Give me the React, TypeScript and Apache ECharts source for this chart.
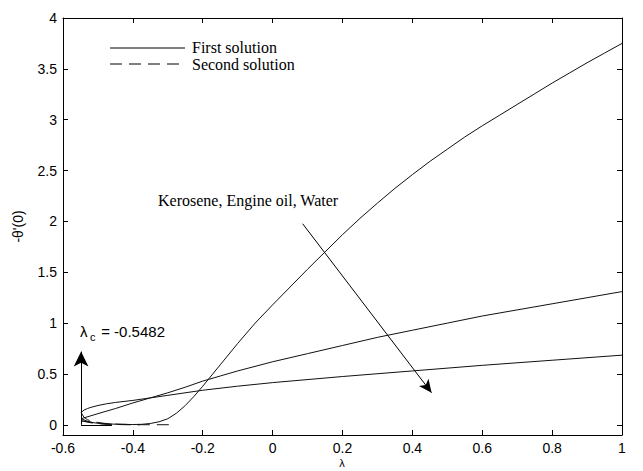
import React, { useEffect, useRef } from "react";
import * as echarts from "echarts";

const lambdaC = -0.5482;

// First solutions (solid)
const c1X = [lambdaC, -0.52, -0.5, -0.45, -0.4, -0.375, -0.35, -0.325, -0.3, -0.275, -0.25, -0.225, -0.2, -0.15, -0.1, -0.05, 0, 0.05, 0.1, 0.15, 0.2, 0.25, 0.3, 0.35, 0.4, 0.45, 0.5, 0.55, 0.6, 0.65, 0.7, 0.75, 0.8, 0.85, 0.9, 0.95, 1];
const c1Y = [0.04, 0.025, 0.015, 0.006, 0.003, 0.005, 0.013, 0.03, 0.06, 0.115, 0.19, 0.28, 0.38, 0.59, 0.8, 1.0, 1.18, 1.355, 1.53, 1.7, 1.87, 2.03, 2.18, 2.325, 2.46, 2.59, 2.71, 2.83, 2.94, 3.045, 3.15, 3.255, 3.36, 3.46, 3.56, 3.655, 3.75];

const c2X = [lambdaC, -0.5, -0.45, -0.4, -0.35, -0.3, -0.25, -0.2, -0.15, -0.1, 0, 0.1, 0.2, 0.3, 0.4, 0.5, 0.6, 0.7, 0.8, 0.9, 1];
const c2Y = [0.06, 0.11, 0.16, 0.215, 0.265, 0.315, 0.37, 0.43, 0.48, 0.53, 0.62, 0.7, 0.78, 0.86, 0.93, 1.0, 1.07, 1.13, 1.19, 1.25, 1.31];

const c3X = [lambdaC, -0.54, -0.53, -0.52, -0.5, -0.475, -0.45, -0.4, -0.35, -0.3, -0.2, -0.1, 0, 0.2, 0.4, 0.6, 0.8, 1];
const c3Y = [0.12, 0.145, 0.16, 0.172, 0.19, 0.207, 0.22, 0.24, 0.265, 0.29, 0.34, 0.38, 0.415, 0.475, 0.53, 0.585, 0.635, 0.685];

// Second solutions (dashed)
const d1X = [lambdaC, -0.52, -0.5, -0.47, -0.42, -0.35, -0.28];
const d1Y = [0.04, 0.02, 0.012, 0.005, 0.002, 0.001, 0.001];
const d2X = [lambdaC, -0.53, -0.51, -0.48, -0.44, -0.38];
const d2Y = [0.06, 0.035, 0.018, 0.008, 0.003, 0.001];
const d3X = [lambdaC, -0.54, -0.53, -0.51, -0.48, -0.44, -0.4];
const d3Y = [0.12, 0.075, 0.05, 0.028, 0.014, 0.006, 0.003];

const xTickMin = -0.6;
const xTickMax = 1;
const yMin = -0.1;
const yMax = 4;

const legendNames = ["First solution", "Second solution"];
const annotationText = "Kerosene, Engine oil, Water";
const lambdaCValue = " = -0.5482";
const xName = "λ";
const yName = "-θ'(0)";

const zip = (xs: number[], ys: number[]) => xs.map((x, i) => [x, ys[i]]);

const SANS = "Liberation Sans, Arial, sans-serif";
const SERIF = "Liberation Serif, Times New Roman, serif";

export default function App() {
  const ref = useRef<HTMLDivElement>(null);
  useEffect(() => {
    if (!ref.current) return;
    const chart = echarts.init(ref.current, undefined, { renderer: "svg" });
    const lineCol = "#111";
    const solid = { color: lineCol, width: 1, type: "solid" as const };
    const dashed = { color: lineCol, width: 1, type: [12, 7] as any };
    const mkSeries = (xs: number[], ys: number[], ls: any, extra: any = {}) => ({
      type: "line",
      data: zip(xs, ys),
      showSymbol: false,
      smooth: false,
      lineStyle: ls,
      silent: true,
      z: 3,
      ...extra,
    });
    const yLabelFmt = (v: number) => {
      const r = Math.round(v * 2) / 2;
      if (Math.abs(r - v) > 1e-6 || v < 0) return "";
      return String(r);
    };
    const baseAxisLine = { show: true, onZero: false, lineStyle: { color: "#000", width: 1 } };
    chart.setOption({
      animation: false,
      backgroundColor: "#fff",
      grid: { left: 63, right: 21, top: 18, bottom: 36, containLabel: false, outerBoundsMode: "none" },
      xAxis: [
        {
          type: "value",
          min: xTickMin,
          max: xTickMax,
          interval: 0.2,
          position: "bottom",
          axisLine: baseAxisLine,
          axisTick: { inside: true, length: 5, lineStyle: { color: "#000" } },
          axisLabel: { fontFamily: SANS, fontSize: 14, color: "#000", margin: 6, lineHeight: 14 },
          splitLine: { show: false },
        },
        {
          type: "value",
          min: xTickMin,
          max: xTickMax,
          interval: 0.2,
          position: "top",
          axisLine: baseAxisLine,
          axisTick: { inside: true, length: 5, lineStyle: { color: "#000" } },
          axisLabel: { show: false },
          splitLine: { show: false },
        },
      ],
      yAxis: [
        {
          type: "value",
          min: yMin,
          max: yMax,
          splitNumber: 8,
          minInterval: 0.5,
          maxInterval: 0.5,
          position: "left",
          name: yName,
          nameLocation: "middle",
          nameRotate: 90,
          nameGap: 38,
          nameTextStyle: { fontFamily: SANS, fontSize: 14, color: "#000" },
          axisLine: baseAxisLine,
          axisTick: { inside: true, length: 5, lineStyle: { color: "#000" } },
          axisLabel: { fontFamily: SANS, fontSize: 14, color: "#000", margin: 6, formatter: yLabelFmt },
          splitLine: { show: false },
        },
        {
          type: "value",
          min: yMin,
          max: yMax,
          splitNumber: 8,
          minInterval: 0.5,
          maxInterval: 0.5,
          position: "right",
          axisLine: baseAxisLine,
          axisTick: { inside: true, length: 5, lineStyle: { color: "#000" } },
          axisLabel: { show: false },
          splitLine: { show: false },
        },
      ],
      series: [
        mkSeries(c1X, c1Y, solid, {
          markLine: {
            silent: true,
            animation: false,
            label: { show: false },
            lineStyle: { color: "#000", width: 1, type: "solid" },
            symbol: ["none", "arrow"],
            data: [
              [
                { coord: [0.086, 1.977], symbol: "none" },
                { coord: [0.455, 0.315], symbol: "arrow", symbolSize: [9, 13] },
              ],
              [
                { coord: [lambdaC, 0], symbol: "none" },
                { coord: [lambdaC, 0.72], symbol: "arrow", symbolSize: [11, 15] },
              ],
              [
                { coord: [lambdaC, 0], symbol: "none" },
                { coord: [-0.46, 0], symbol: "none" },
              ],
            ],
          },
        }),
        mkSeries(c2X, c2Y, solid),
        mkSeries(c3X, c3Y, solid),
        mkSeries(d1X, d1Y, dashed),
        mkSeries(d2X, d2Y, dashed),
        mkSeries(d3X, d3Y, dashed),
      ],
      graphic: [
        { type: "line", shape: { x1: 110, y1: 48, x2: 185, y2: 48 }, style: { stroke: "#000", lineWidth: 1 } },
        {
          type: "text",
          x: 192,
          y: 47,
          style: { text: legendNames[0], fontFamily: SERIF, fontSize: 16, fill: "#000", verticalAlign: "middle" },
        },
        {
          type: "line",
          shape: { x1: 110, y1: 64, x2: 185, y2: 64 },
          style: { stroke: "#000", lineWidth: 1, lineDash: [12, 7] },
        },
        {
          type: "text",
          x: 192,
          y: 64,
          style: { text: legendNames[1], fontFamily: SERIF, fontSize: 16, fill: "#000", verticalAlign: "middle" },
        },
        {
          type: "text",
          x: 158,
          y: 200,
          style: { text: annotationText, fontFamily: SERIF, fontSize: 16, fill: "#000", verticalAlign: "middle" },
        },
        {
          type: "text",
          x: 80,
          y: 331,
          style: { text: "λ", fontFamily: SANS, fontSize: 15, fill: "#000", verticalAlign: "middle" },
        },
        {
          type: "text",
          x: 90,
          y: 337,
          style: { text: "c", fontFamily: SANS, fontSize: 11, fill: "#000", verticalAlign: "middle" },
        },
        {
          type: "text",
          x: 97,
          y: 331,
          style: { text: lambdaCValue, fontFamily: SANS, fontSize: 15, fill: "#000", verticalAlign: "middle" },
        },
        {
          type: "text",
          x: 342,
          y: 463,
          style: { text: xName, fontFamily: SANS, fontSize: 11, fill: "#000", align: "center", verticalAlign: "middle", lineHeight: 11 },
        },
      ],
    });
    return () => chart.dispose();
  }, []);
  return (
    <div
      ref={ref}
      style={{ position: "fixed", left: 0, top: 0, width: 643, height: 471, background: "#fff" }}
    />
  );
}
